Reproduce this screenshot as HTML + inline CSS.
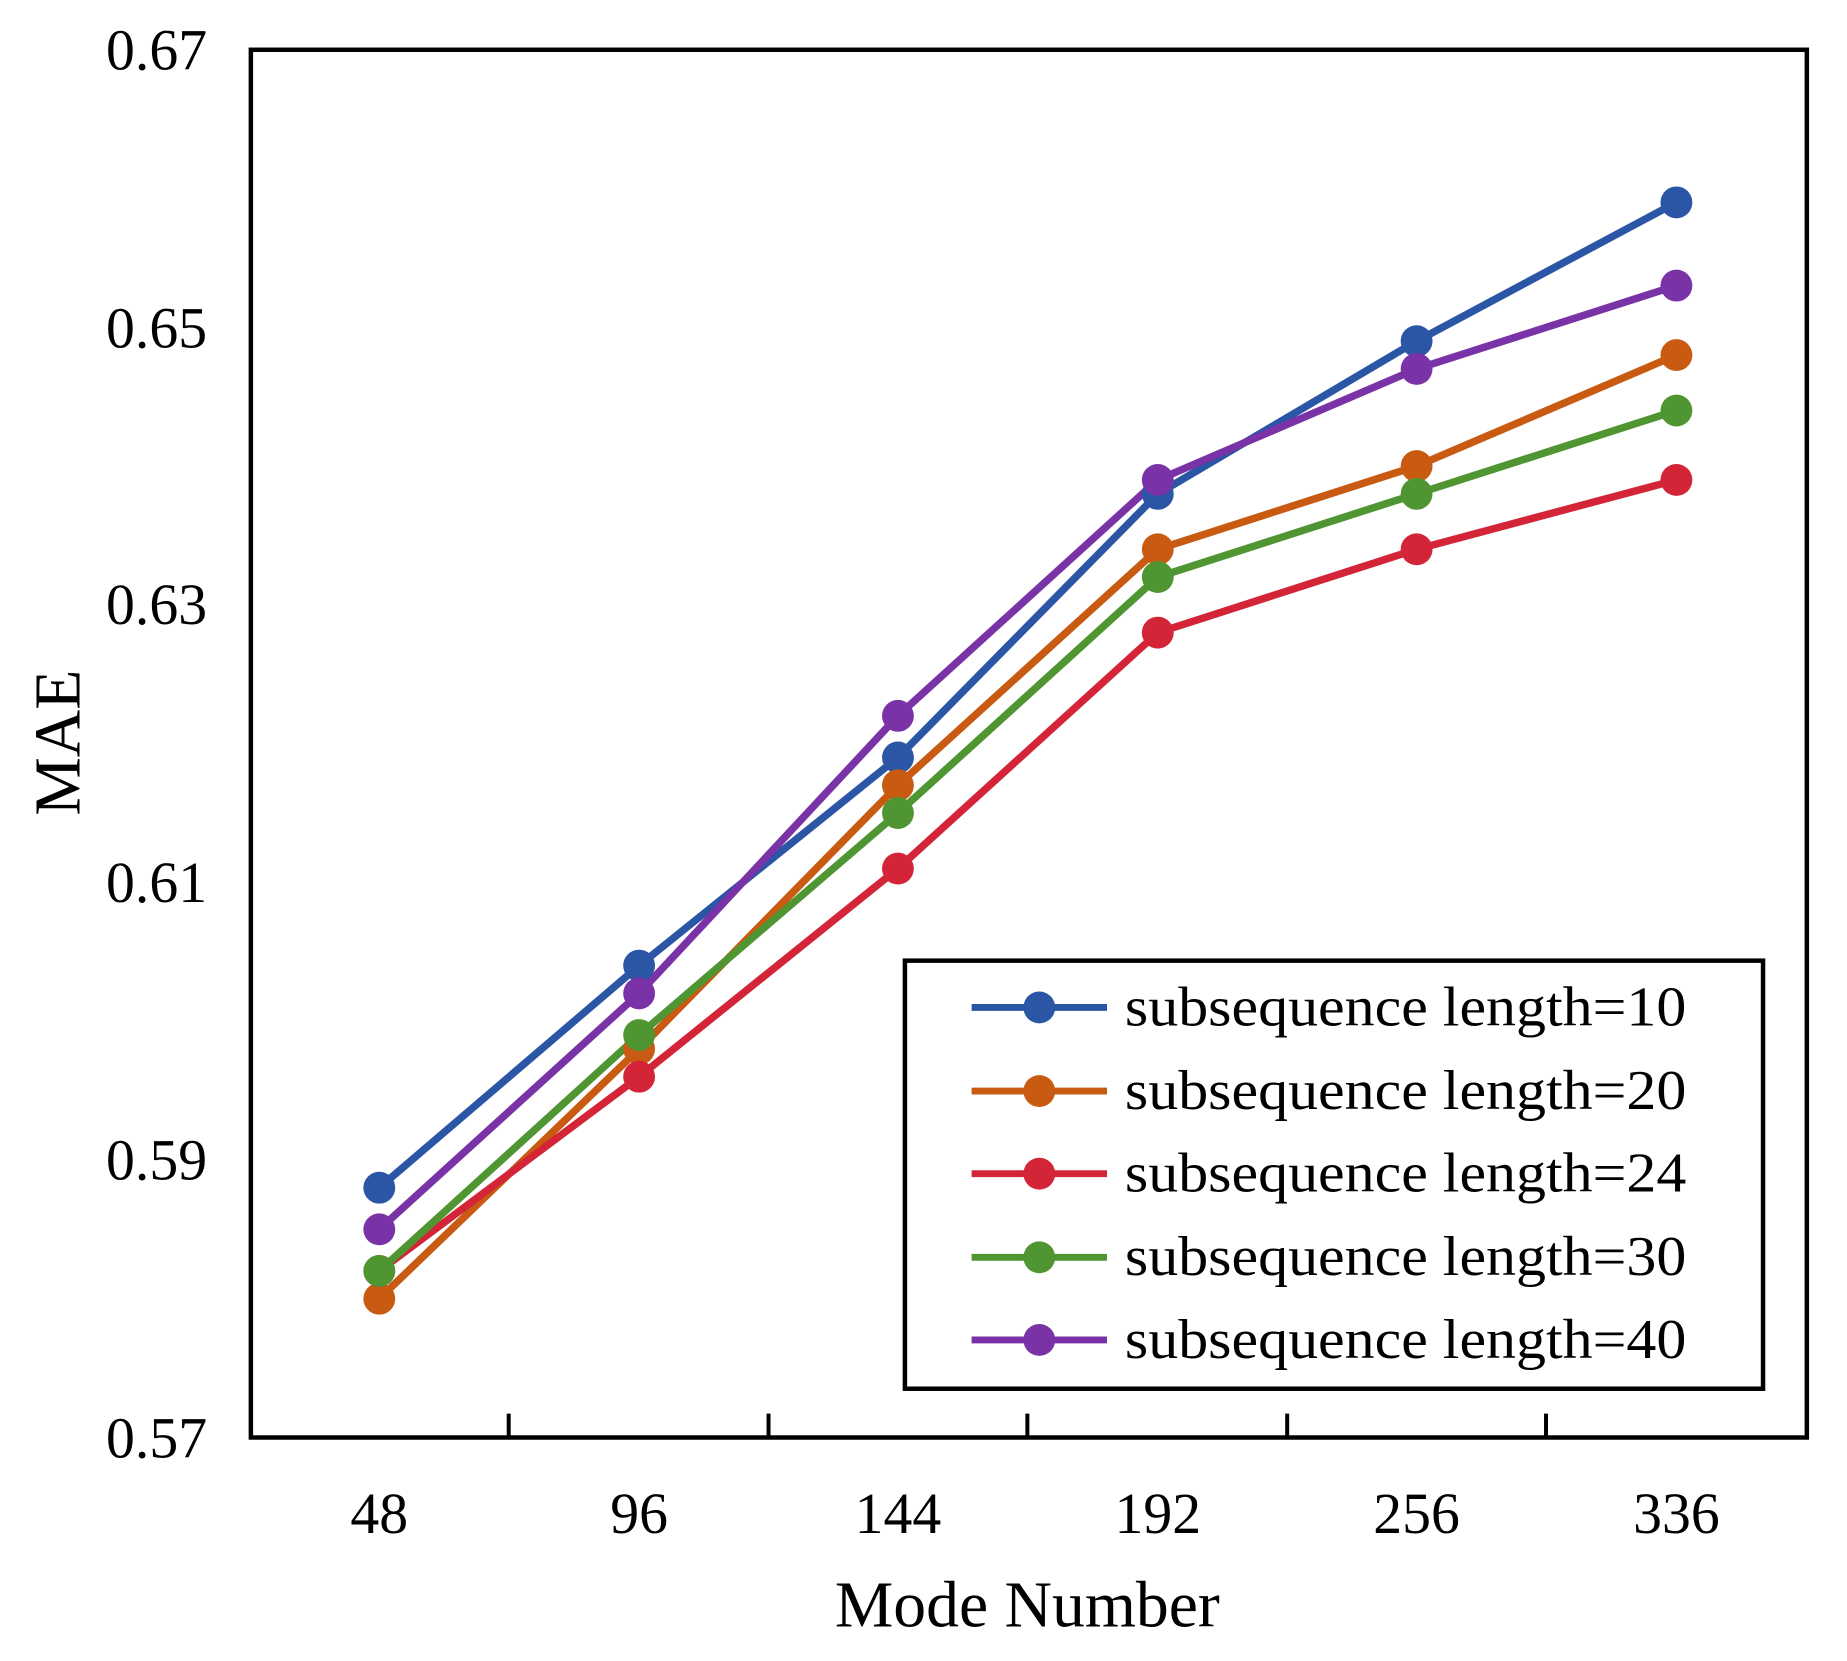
<!DOCTYPE html>
<html><head><meta charset="utf-8"><style>html,body{margin:0;padding:0;background:#fff;}svg{display:block}</style></head>
<body>
<svg width="1847" height="1661" viewBox="0 0 1847 1661" xmlns="http://www.w3.org/2000/svg" font-family="Liberation Serif, serif">
<rect width="1847" height="1661" fill="#fff"/>
<g transform="scale(0.9955)">
<g stroke-width="7.5" fill="none" stroke-linejoin="round">
<polyline stroke="#2b55a5" points="381,1193.1 642,970.0 902,760.9 1163,496.1 1423,342.7 1684,203.3"/>
<polyline stroke="#c85a12" points="381,1304.6 642,1053.7 902,788.8 1163,551.8 1423,468.2 1684,356.7"/>
<polyline stroke="#d42538" points="381,1276.7 642,1081.6 902,872.5 1163,635.5 1423,551.8 1684,482.1"/>
<polyline stroke="#4f9633" points="381,1276.7 642,1039.7 902,816.7 1163,579.7 1423,496.1 1684,412.4"/>
<polyline stroke="#7a33a6" points="381,1234.9 642,997.9 902,719.1 1163,482.1 1423,370.6 1684,286.9"/>
</g>
<g fill="#2b55a5"><circle cx="381" cy="1193.1" r="16"/><circle cx="642" cy="970.0" r="16"/><circle cx="902" cy="760.9" r="16"/><circle cx="1163" cy="496.1" r="16"/><circle cx="1423" cy="342.7" r="16"/><circle cx="1684" cy="203.3" r="16"/></g>
<g fill="#c85a12"><circle cx="381" cy="1304.6" r="16"/><circle cx="642" cy="1053.7" r="16"/><circle cx="902" cy="788.8" r="16"/><circle cx="1163" cy="551.8" r="16"/><circle cx="1423" cy="468.2" r="16"/><circle cx="1684" cy="356.7" r="16"/></g>
<g fill="#d42538"><circle cx="381" cy="1276.7" r="16"/><circle cx="642" cy="1081.6" r="16"/><circle cx="902" cy="872.5" r="16"/><circle cx="1163" cy="635.5" r="16"/><circle cx="1423" cy="551.8" r="16"/><circle cx="1684" cy="482.1" r="16"/></g>
<g fill="#4f9633"><circle cx="381" cy="1276.7" r="16"/><circle cx="642" cy="1039.7" r="16"/><circle cx="902" cy="816.7" r="16"/><circle cx="1163" cy="579.7" r="16"/><circle cx="1423" cy="496.1" r="16"/><circle cx="1684" cy="412.4" r="16"/></g>
<g fill="#7a33a6"><circle cx="381" cy="1234.9" r="16"/><circle cx="642" cy="997.9" r="16"/><circle cx="902" cy="719.1" r="16"/><circle cx="1163" cy="482.1" r="16"/><circle cx="1423" cy="370.6" r="16"/><circle cx="1684" cy="286.9" r="16"/></g>
<rect x="252" y="50" width="1563" height="1394" fill="none" stroke="#000" stroke-width="4.5"/>
<g stroke="#000" stroke-width="4">
<line x1="511" y1="1444" x2="511" y2="1420"/><line x1="772" y1="1444" x2="772" y2="1420"/><line x1="1032" y1="1444" x2="1032" y2="1420"/><line x1="1293" y1="1444" x2="1293" y2="1420"/><line x1="1553" y1="1444" x2="1553" y2="1420"/>
</g>
<g font-size="58" text-anchor="end" fill="#000">
<text x="208" y="70">0.67</text><text x="208" y="349">0.65</text><text x="208" y="627">0.63</text><text x="208" y="906">0.61</text><text x="208" y="1185">0.59</text><text x="208" y="1464">0.57</text>
</g>
<g font-size="58" text-anchor="middle" fill="#000">
<text x="381" y="1540">48</text><text x="642" y="1540">96</text><text x="902" y="1540">144</text><text x="1163" y="1540">192</text><text x="1423" y="1540">256</text><text x="1684" y="1540">336</text>
</g>
<text x="1032" y="1634" font-size="66" text-anchor="middle">Mode Number</text>
<text transform="translate(80,746) rotate(-90)" font-size="66" text-anchor="middle">MAE</text>
<rect x="909" y="965" width="862" height="430" fill="#fff" stroke="#000" stroke-width="4.5"/>
<g stroke-width="7">
<line x1="976" y1="1012" x2="1112" y2="1012" stroke="#2b55a5"/>
<line x1="976" y1="1096" x2="1112" y2="1096" stroke="#c85a12"/>
<line x1="976" y1="1179" x2="1112" y2="1179" stroke="#d42538"/>
<line x1="976" y1="1263" x2="1112" y2="1263" stroke="#4f9633"/>
<line x1="976" y1="1346" x2="1112" y2="1346" stroke="#7a33a6"/>
</g>
<circle cx="1044" cy="1012" r="16" fill="#2b55a5"/>
<circle cx="1044" cy="1096" r="16" fill="#c85a12"/>
<circle cx="1044" cy="1179" r="16" fill="#d42538"/>
<circle cx="1044" cy="1263" r="16" fill="#4f9633"/>
<circle cx="1044" cy="1346" r="16" fill="#7a33a6"/>
<g font-size="56" fill="#000">
<text x="1130" y="1030" textLength="564" lengthAdjust="spacingAndGlyphs">subsequence length=10</text>
<text x="1130" y="1114" textLength="564" lengthAdjust="spacingAndGlyphs">subsequence length=20</text>
<text x="1130" y="1197" textLength="564" lengthAdjust="spacingAndGlyphs">subsequence length=24</text>
<text x="1130" y="1281" textLength="564" lengthAdjust="spacingAndGlyphs">subsequence length=30</text>
<text x="1130" y="1364" textLength="564" lengthAdjust="spacingAndGlyphs">subsequence length=40</text>
</g>
</g>
</svg>
</body></html>
